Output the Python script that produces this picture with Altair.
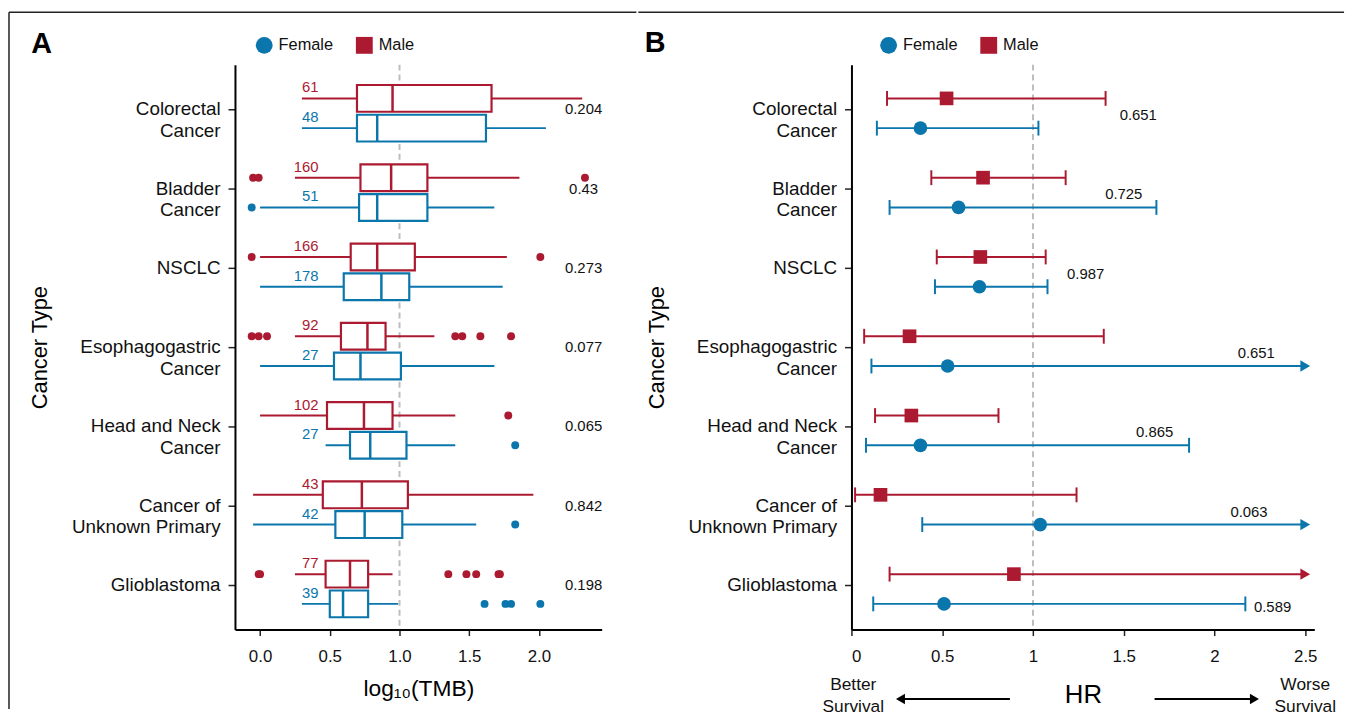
import altair as alt
import pandas as pd

# ---------------- data ----------------
cancers = ["Colorectal\nCancer", "Bladder\nCancer", "NSCLC", "Esophagogastric\nCancer",
           "Head and Neck\nCancer", "Cancer of\nUnknown Primary", "Glioblastoma"]
sexes = ["Female", "Male"]

# Panel A: log10(TMB) box statistics
male_lo = [0.30, 0.25, 0.00, 0.25, 0.00, -0.05, 0.25]
male_q1 = [0.695, 0.72, 0.65, 0.58, 0.48, 0.45, 0.47]
male_med = [0.95, 0.94, 0.84, 0.77, 0.745, 0.73, 0.645]
male_q3 = [1.66, 1.20, 1.11, 0.90, 0.95, 1.06, 0.775]
male_hi = [2.31, 1.86, 1.77, 1.25, 1.40, 1.96, 0.95]
male_n = [61, 160, 166, 92, 102, 43, 77]
male_outliers = [[], [-0.05, -0.01, 2.33], [-0.06, 2.01],
                 [-0.06, -0.01, 0.05, 1.40, 1.45, 1.58, 1.80], [1.78], [],
                 [-0.01, 0.0, 1.35, 1.48, 1.55, 1.71, 1.72]]

female_lo = [0.30, 0.00, 0.00, 0.00, 0.47, -0.05, 0.30]
female_q1 = [0.695, 0.71, 0.60, 0.53, 0.645, 0.54, 0.50]
female_med = [0.84, 0.84, 0.87, 0.72, 0.79, 0.75, 0.595]
female_q3 = [1.62, 1.20, 1.07, 1.01, 1.05, 1.02, 0.775]
female_hi = [2.05, 1.68, 1.74, 1.68, 1.40, 1.55, 0.99]
female_n = [48, 51, 178, 27, 27, 42, 39]
female_outliers = [[], [-0.06], [], [], [1.83], [1.83], [1.61, 1.76, 1.80, 2.01]]

p_tmb = ["0.204", "0.43", "0.273", "0.077", "0.065", "0.842", "0.198"]

# Panel B: hazard ratios
male_hr = [0.524, 0.725, 0.71, 0.32, 0.33, 0.16, 0.895]
male_hr_lo = [0.196, 0.44, 0.47, 0.07, 0.13, 0.02, 0.21]
male_hr_hi = [1.40, 1.18, 1.07, 1.39, 0.81, 1.24, 2.5]
male_hr_cut = [False, False, False, False, False, False, True]
female_hr = [0.38, 0.59, 0.705, 0.53, 0.38, 1.04, 0.51]
female_hr_lo = [0.14, 0.21, 0.46, 0.11, 0.08, 0.39, 0.12]
female_hr_hi = [1.03, 1.68, 1.08, 2.5, 1.86, 2.5, 2.17]
female_hr_cut = [False, False, False, True, False, True, False]
p_hr = ["0.651", "0.725", "0.987", "0.651", "0.865", "0.063", "0.589"]
p_hr_at = [1.58, 1.50, 1.29, 2.23, 1.67, 2.19, 2.32]
p_hr_side = ["mid", "mid", "mid", "mid", "mid", "mid", "Female"]

# ---------------- tables ----------------
rows_a, rows_o, rows_b = [], [], []
for i, c in enumerate(cancers):
    rows_a.append(dict(cancer=c, sex="Male", lo=male_lo[i], q1=male_q1[i], med=male_med[i],
                       q3=male_q3[i], hi=male_hi[i], n=male_n[i]))
    rows_a.append(dict(cancer=c, sex="Female", lo=female_lo[i], q1=female_q1[i], med=female_med[i],
                       q3=female_q3[i], hi=female_hi[i], n=female_n[i]))
    for v in male_outliers[i]:
        rows_o.append(dict(cancer=c, sex="Male", v=v))
    for v in female_outliers[i]:
        rows_o.append(dict(cancer=c, sex="Female", v=v))
    rows_b.append(dict(cancer=c, sex="Male", hr=male_hr[i], lo=male_hr_lo[i], hi=male_hr_hi[i],
                       cut=male_hr_cut[i]))
    rows_b.append(dict(cancer=c, sex="Female", hr=female_hr[i], lo=female_hr_lo[i],
                       hi=female_hr_hi[i], cut=female_hr_cut[i]))
df_a = pd.DataFrame(rows_a)
df_o = pd.DataFrame(rows_o)
df_b = pd.DataFrame(rows_b)
df_pa = pd.DataFrame(dict(cancer=cancers, p=p_tmb))
df_pb = pd.DataFrame(dict(cancer=cancers, p=p_hr, at=p_hr_at, side=p_hr_side,
                          sex=["Female"] * len(cancers)))
one = pd.DataFrame({"k": [0]})

# ---------------- styling ----------------
BLUE = "#0A76AB"
RED = "#AB1A30"
FONT = "Liberation Sans"
W_A, W_B, H = 370, 467, 570
COLOR_EXPR = f"datum.sex == 'Male' ? '{RED}' : '{BLUE}'"

color_scale = alt.Scale(domain=sexes, range=[BLUE, RED])
shape_scale = alt.Scale(domain=sexes, range=["circle", "square"])
col_direct = alt.Color("col:N", scale=None)


def y_enc():
    return alt.Y("cancer:N", sort=cancers,
                 scale=alt.Scale(paddingInner=0, paddingOuter=0.0625),
                 axis=alt.Axis(title="Cancer Type", titleFontSize=22, titleFontWeight="normal",
                               titleX=-197, titleY=H / 2, titleAngle=270, titleBaseline="middle",
                               titleAlign="center",
                               labelExpr="split(datum.label, '\\n')", labelFontSize=19,
                               labelLineHeight=22, labelPadding=8, labelLimit=400, tickSize=7,
                               labelColor="#111"))


def legend_def(x):
    return alt.Legend(orient="none", legendX=x, legendY=-28, direction="horizontal", title=None,
                      labelFontSize=16.5, symbolSize=289, labelOffset=6, columnPadding=22,
                      padding=0, symbolStrokeWidth=0, symbolOpacity=1, labelColor="#111")


# ---------------- panel A ----------------
sx_a = alt.Scale(domain=[-0.18, 2.45], nice=False, zero=False)
ax_a = alt.Axis(values=[0, 0.5, 1, 1.5, 2], format=".1f", title="log₁₀(TMB)", titleFontSize=23,
                titleFontWeight="normal", titleX=W_A / 2, titleY=59, titleBaseline="middle",
                labelFontSize=17, labelPadding=13, tickSize=6, labelColor="#111")


def xa(field):
    return alt.X(field, type="quantitative", scale=sx_a, axis=ax_a)


yoff_a = alt.YOffset("sex:N", scale=alt.Scale(domain=["Male", "Female"], paddingInner=0.1,
                                               paddingOuter=0.383))

base_a = alt.Chart(df_a).transform_calculate(col=COLOR_EXPR)
whisk = base_a.mark_rule(strokeWidth=2).encode(
    x=xa("lo"), x2="hi:Q", y=y_enc(), yOffset=yoff_a, color=col_direct)
box = base_a.mark_rect(fill="white", strokeWidth=2.2).encode(
    x=xa("q1"), x2="q3:Q", y=y_enc(), yOffset=yoff_a,
    stroke=alt.Stroke("col:N", scale=None))
med = base_a.mark_tick(size=27, thickness=2.5, opacity=1).encode(
    x=xa("med"), y=y_enc(), yOffset=yoff_a, color=col_direct)
outl = alt.Chart(df_o).transform_calculate(col=COLOR_EXPR).mark_circle(size=64, opacity=1).encode(
    x=xa("v"), y=y_enc(), yOffset=yoff_a, color=col_direct)
counts = base_a.mark_text(align="right", baseline="middle", dy=-11, fontSize=15).encode(
    x=alt.datum(0.42), y=y_enc(), yOffset=yoff_a, text="n:N", color=col_direct)
ptxt_a = alt.Chart(df_pa).mark_text(align="center", baseline="middle", fontSize=15,
                                    color="#111").encode(
    x=alt.datum(2.32), y=y_enc(), text="p:N")
ref_a = alt.Chart(one).mark_rule(color="#BDBDBD", strokeWidth=2, strokeDash=[6, 4]).encode(
    x=alt.datum(1.0))
leg_a = alt.Chart(df_a).mark_point(filled=True, opacity=1).encode(
    x=xa("med"), y=y_enc(),
    color=alt.Color("sex:N", scale=color_scale, legend=legend_def(21)),
    shape=alt.Shape("sex:N", scale=shape_scale, legend=legend_def(21))
).transform_filter("false")
letter_a = alt.Chart(one).mark_text(text="A", fontSize=29, fontWeight="bold", align="center",
                                    baseline="middle", color="black").encode(
    x=alt.value(-195), y=alt.value(-21))
frame_top_a = alt.Chart(one).mark_rule(color="#222", strokeWidth=1.5).encode(
    x=alt.value(-228), x2=alt.value(405), y=alt.value(-53))
frame_left = alt.Chart(one).mark_rule(color="#222", strokeWidth=1.5).encode(
    x=alt.value(-228), y=alt.value(-53), y2=alt.value(650))

panel_a = alt.layer(ref_a, whisk, box, med, outl, counts, ptxt_a, leg_a, letter_a,
                    frame_top_a, frame_left).properties(width=W_A, height=H)

# ---------------- panel B ----------------
sx_b = alt.Scale(domain=[0, 2.55], nice=False, zero=False)
ax_b = alt.Axis(values=[0, 0.5, 1, 1.5, 2, 2.5], format="~g", title="HR", titleFontSize=26,
                titleFontWeight="normal", titleX=W_B / 2, titleY=66, titleBaseline="middle",
                labelFontSize=17, labelPadding=13, tickSize=6, labelColor="#111")


def xb(field):
    return alt.X(field, type="quantitative", scale=sx_b, axis=ax_b)


yoff_b = alt.YOffset("sex:N", scale=alt.Scale(domain=["Male", "Female"], paddingInner=0,
                                               paddingOuter=1, align=0.675))
base_b = alt.Chart(df_b).transform_calculate(col=COLOR_EXPR)
ci = base_b.mark_rule(strokeWidth=2).encode(
    x=xb("lo"), x2="hi:Q", y=y_enc(), yOffset=yoff_b, color=col_direct)
cap_lo = base_b.mark_tick(size=15, thickness=2, opacity=1).encode(
    x=xb("lo"), y=y_enc(), yOffset=yoff_b, color=col_direct)
cap_hi = base_b.mark_tick(size=15, thickness=2, opacity=1).encode(
    x=xb("hi"), y=y_enc(), yOffset=yoff_b, color=col_direct
).transform_filter("!datum.cut")
arrow_hi = base_b.mark_point(shape="triangle-right", filled=True, size=130, opacity=1).encode(
    x=xb("hi"), y=y_enc(), yOffset=yoff_b, color=col_direct
).transform_filter("datum.cut")
pts = alt.Chart(df_b).mark_point(filled=True, size=190, opacity=1).encode(
    x=xb("hr"), y=y_enc(), yOffset=yoff_b,
    color=alt.Color("sex:N", scale=color_scale, legend=legend_def(29)),
    shape=alt.Shape("sex:N", scale=shape_scale, legend=legend_def(29)))
ptxt_mid = alt.Chart(df_pb).mark_text(align="center", baseline="middle", fontSize=15,
                                      color="#111", dy=6).encode(
    x=xb("at"), y=y_enc(), text="p:N").transform_filter("datum.side == 'mid'")
ptxt_side = alt.Chart(df_pb).mark_text(align="center", baseline="middle", fontSize=15,
                                       color="#111", dy=3).encode(
    x=xb("at"), y=y_enc(), yOffset=yoff_b, text="p:N").transform_filter("datum.side != 'mid'")
ref_b = alt.Chart(one).mark_rule(color="#BDBDBD", strokeWidth=2, strokeDash=[6, 4]).encode(
    x=alt.datum(1.0))
letter_b = alt.Chart(one).mark_text(text="B", fontSize=29, fontWeight="bold", align="center",
                                    baseline="middle", color="black").encode(
    x=alt.value(-198), y=alt.value(-22))
frame_top_b = alt.Chart(one).mark_rule(color="#222", strokeWidth=1.5).encode(
    x=alt.value(-215), x2=alt.value(497), y=alt.value(-53))
better = alt.Chart(one).mark_text(text=["Better", "Survival"], fontSize=17.5, lineHeight=22,
                                  align="center", baseline="top", color="#111").encode(
    x=alt.datum(0.01), y=alt.value(617))
worse = alt.Chart(one).mark_text(text=["Worse", "Survival"], fontSize=17.5, lineHeight=22,
                                 align="center", baseline="top", color="#111").encode(
    x=alt.datum(2.5), y=alt.value(617))
arr_l = alt.Chart(one).mark_rule(color="black", strokeWidth=2).encode(
    x=alt.datum(0.873), x2=alt.datum(0.28), y=alt.value(640))
arr_l_head = alt.Chart(one).mark_point(shape="triangle-left", filled=True, size=110,
                                       color="black", opacity=1).encode(
    x=alt.datum(0.27), y=alt.value(640))
arr_r = alt.Chart(one).mark_rule(color="black", strokeWidth=2).encode(
    x=alt.datum(1.67), x2=alt.datum(2.21), y=alt.value(640))
arr_r_head = alt.Chart(one).mark_point(shape="triangle-right", filled=True, size=110,
                                       color="black", opacity=1).encode(
    x=alt.datum(2.22), y=alt.value(640))

panel_b = alt.layer(ref_b, ci, cap_lo, cap_hi, arrow_hi, pts, ptxt_mid, ptxt_side, letter_b,
                    frame_top_b, better, worse, arr_l, arr_l_head, arr_r, arr_r_head
                    ).properties(width=W_B, height=H)

chart = alt.hconcat(panel_a, panel_b, spacing=0).resolve_scale(
    color="independent", shape="independent", x="independent", y="independent"
).resolve_legend(color="independent", shape="independent").properties(
    padding={"left": 0, "top": 0, "right": 5, "bottom": 0}, background="white"
).configure(font=FONT).configure_view(stroke=None).configure_axis(
    grid=False, domainColor="black", domainWidth=2, tickColor="#222", tickWidth=1.5,
    titleColor="black")

chart.save("out.html", embed_options={"renderer": "svg", "actions": False})
